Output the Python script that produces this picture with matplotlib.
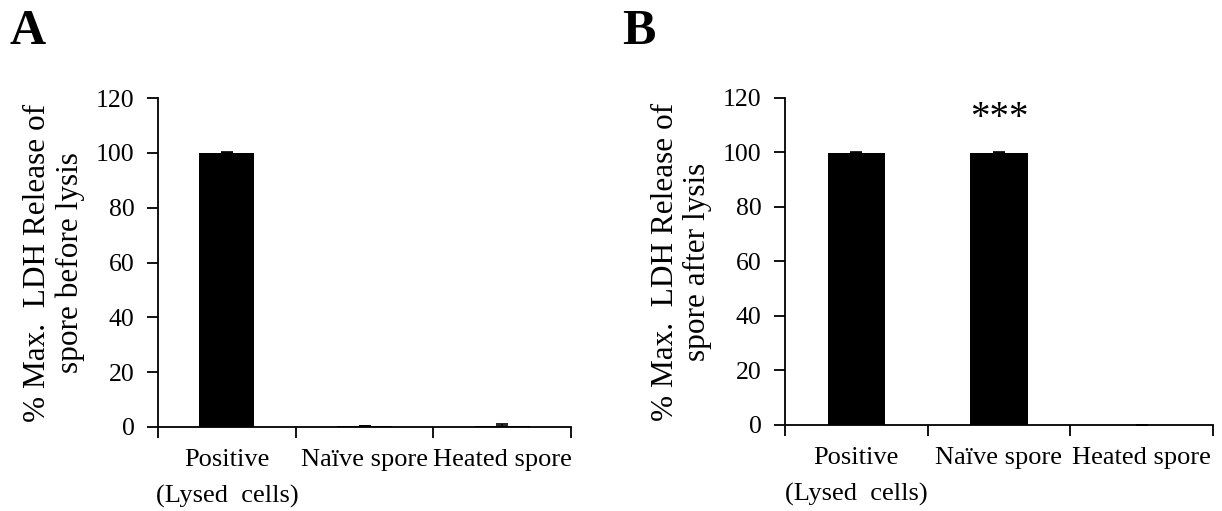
import matplotlib
matplotlib.use("Agg")
import matplotlib.pyplot as plt
import numpy as np

plt.rcParams['font.family'] = ['Liberation Serif', 'DejaVu Serif']

categories = ["Positive\n(Lysed  cells)", "Naïve spore", "Heated spore"]
values_a = [99.8, 0.3, 0.2]
errors_a = [0.4, 0.2, 1.0]
values_b = [99.8, 99.8, 0.0]
errors_b = [0.4, 0.4, 0.0]
ylabel_a = "% Max.  LDH Release of\nspore before lysis"
ylabel_b = "% Max.  LDH Release of\nspore after lysis"
yticks = [0, 20, 40, 60, 80, 100, 120]

fig = plt.figure(figsize=(12.22, 5.11), dpi=100)
ax_a = fig.add_axes([0.1293, 0.1644, 0.338, 0.6438])
ax_b = fig.add_axes([0.6424, 0.1683, 0.3502, 0.640])

def draw(ax, vals, errs, ylabel):
    x = np.arange(len(categories))
    ax.bar(x, vals, width=0.4, color='black', zorder=2)
    ax.errorbar(x, vals, yerr=[np.zeros(len(errs)), errs], fmt='none',
                ecolor='black', elinewidth=1.2, capsize=4, capthick=1.2, zorder=3)
    ax.set_xlim(-0.5, len(categories) - 0.5)
    ax.set_ylim(0, 120)
    ax.set_yticks(yticks)
    ax.tick_params(axis='y', labelsize=18.5, length=8, width=1.3, direction='out', pad=9)
    ax.set_xticks(np.arange(len(categories) + 1) - 0.5)
    ax.set_xticklabels([])
    ax.tick_params(axis='x', which='major', length=8, width=1.3, direction='out')
    ax.set_xticks(x, minor=True)
    ax.set_xticklabels(categories, minor=True, fontsize=19, linespacing=1.75, va='top')
    ax.tick_params(axis='x', which='minor', length=0, pad=16)
    for s in ['top', 'right']:
        ax.spines[s].set_visible(False)
    for s in ['left', 'bottom']:
        ax.spines[s].set_linewidth(1.3)
    ax.set_ylabel(ylabel, fontsize=22.5, linespacing=1.12, labelpad=8)

draw(ax_a, values_a, errors_a, ylabel_a)
draw(ax_b, values_b, errors_b, ylabel_b)

ax_b.text(1, 112.5, "***", ha='center', va='center', fontsize=28)

fig.text(0.008, 0.914, "A", fontsize=36, fontweight='bold', ha='left', va='baseline')
fig.text(0.509, 0.914, "B", fontsize=36, fontweight='bold', ha='left', va='baseline')

fig.savefig("out.png", dpi=100)
